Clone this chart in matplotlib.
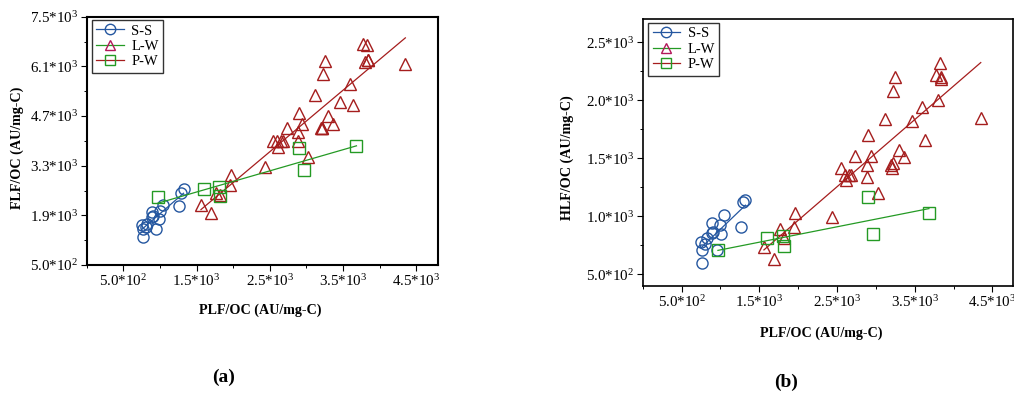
import numpy as np
import matplotlib
matplotlib.use("Agg")
import matplotlib.pyplot as plt
from matplotlib.lines import Line2D
from matplotlib.ticker import AutoMinorLocator

plt.rcParams['font.family'] = ['Liberation Serif', 'DejaVu Serif']
plt.rcParams['mathtext.fontset'] = 'custom'
plt.rcParams['mathtext.rm'] = 'Liberation Serif'
plt.rcParams['mathtext.it'] = 'Liberation Serif'
plt.rcParams['mathtext.bf'] = 'Liberation Serif:bold'

# PLF/OC (x) and FLF/OC, HLF/OC (y) per gruppo
plf_ss = [750, 762, 768, 805, 825, 886, 890, 905, 950, 992, 1004, 1045, 1262, 1285, 1322]
flf_ss = [1618, 1299, 1506, 1581, 1656, 1844, 1985, 1882, 1506, 1788, 2013, 2192, 2173, 2520, 2643]
hlf_ss = [773, 595, 710, 759, 811, 940, 855, 860, 710, 926, 845, 1012, 906, 1119, 1139]

plf_lw = [1560, 1692, 1765, 1820, 1950, 1966, 2435, 2550, 2600, 2615, 2650, 2675,
          2738, 2880, 2884, 2900, 2937, 3025, 3114, 3200, 3210, 3218, 3227, 3252,
          3300, 3358, 3462, 3595, 3630, 3775, 3800, 3820, 3835, 3843, 4350]
flf_lw = [2192, 1957, 2539, 2474, 2756, 3038, 3273, 4006, 4006, 3836, 4006, 4006,
          4353, 4006, 4259, 4795, 4466, 3553, 5292, 4353, 4353, 4360, 5875, 6260,
          4701, 4466, 5105, 5594, 5002, 6722, 6233, 6703, 6280, 6280, 6153]
hlf_lw = [733, 629, 888, 811, 906, 1027, 992, 1415, 1358, 1314, 1358, 1358,
          1523, 1335, 1444, 1703, 1522, 1199, 1838, 1444, 1415, 1458, 2083, 2206,
          1573, 1507, 1818, 1942, 1660, 2221, 2005, 2322, 2201, 2184, 1847]

plf_pw = [968, 1600, 1808, 1822, 2905, 2968, 3683]
flf_pw = [2408, 2633, 2709, 2445, 3808, 3179, 3855]
hlf_pw = [710, 811, 825, 739, 1170, 845, 1027]

x_ticks = [500, 1500, 2500, 3500, 4500]
x_labels = ['5.0*10$^2$', '1.5*10$^3$', '2.5*10$^3$', '3.5*10$^3$', '4.5*10$^3$']
ya_ticks = [500, 1900, 3300, 4700, 6100, 7500]
ya_labels = ['5.0*10$^2$', '1.9*10$^3$', '3.3*10$^3$', '4.7*10$^3$', '6.1*10$^3$', '7.5*10$^3$']
yb_ticks = [500, 1000, 1500, 2000, 2500]
yb_labels = ['5.0*10$^2$', '1.0*10$^3$', '1.5*10$^3$', '2.0*10$^3$', '2.5*10$^3$']

blue = '#2557a0'
red = '#a51d1d'
green = '#249a24'
crimson = '#b3185a'


def scatter_fit(ax, x, y, marker, color, ms):
    ax.plot(x, y, linestyle='none', marker=marker, ms=ms, mfc='none',
            mec=color, mew=1.0)
    k, q = np.polyfit(x, y, 1)
    xs = np.array([min(x), max(x)])
    ax.plot(xs, k * xs + q, color=color, lw=0.9)


def style_axes(ax, yticks, ylabels, lw):
    ax.set_xticks(x_ticks)
    ax.set_xticklabels(x_labels)
    ax.set_yticks(yticks)
    ax.set_yticklabels(ylabels)
    ax.xaxis.set_minor_locator(AutoMinorLocator(2))
    ax.yaxis.set_minor_locator(AutoMinorLocator(2))
    ax.tick_params(which='major', direction='out', length=4, width=0.8,
                   labelsize=10.8, pad=2)
    ax.tick_params(which='minor', direction='out', length=2.5, width=0.7)
    for s in ax.spines.values():
        s.set_linewidth(lw)
    handles = [
        Line2D([], [], color=blue, lw=0.9, marker='o', ms=7.5, mfc='none', mec=blue),
        Line2D([], [], color=green, lw=0.9, marker='^', ms=7.5, mfc='none', mec=crimson),
        Line2D([], [], color=red, lw=0.9, marker='s', ms=7.5, mfc='none', mec=green),
    ]
    leg = ax.legend(handles, ['S-S', 'L-W', 'P-W'], loc='upper left',
                    bbox_to_anchor=(0.015, 0.987), borderaxespad=0, fontsize=10.5,
                    handlelength=1.9, handletextpad=0.5, labelspacing=0.15,
                    borderpad=0.3, fancybox=False, framealpha=1)
    leg.get_frame().set_edgecolor('#333333')
    leg.get_frame().set_linewidth(1.0)


fig = plt.figure(figsize=(10.14, 3.98), dpi=100)

ax1 = fig.add_axes([86.7 / 1014, 1 - 265 / 398, 351.6 / 1014, 248.3 / 398])
scatter_fit(ax1, plf_ss, flf_ss, 'o', blue, 8)
scatter_fit(ax1, plf_lw, flf_lw, '^', red, 8.5)
scatter_fit(ax1, plf_pw, flf_pw, 's', green, 8)
ax1.set_xlim(0, 4800)
ax1.set_ylim(500, 7500)
style_axes(ax1, ya_ticks, ya_labels, 1.5)

ax2 = fig.add_axes([642.7 / 1014, 1 - 285.7 / 398, 370.3 / 1014, 266.4 / 398])
scatter_fit(ax2, plf_ss, hlf_ss, 'o', blue, 8)
scatter_fit(ax2, plf_lw, hlf_lw, '^', red, 8.5)
scatter_fit(ax2, plf_pw, hlf_pw, 's', green, 8)
ax2.set_xlim(0, 4765)
ax2.set_ylim(400, 2700)
style_axes(ax2, yb_ticks, yb_labels, 1.2)

fig.text(260 / 1014, 1 - 310 / 398, 'PLF/OC (AU/mg-C)', ha='center', va='center',
         fontsize=10.2, fontweight='bold')
fig.text(17 / 1014, 1 - 148 / 398, 'FLF/OC (AU/mg-C)', ha='center', va='center',
         fontsize=10.2, fontweight='bold', rotation=90)
fig.text(821 / 1014, 1 - 333 / 398, 'PLF/OC (AU/mg-C)', ha='center', va='center',
         fontsize=10.2, fontweight='bold')
fig.text(567 / 1014, 1 - 158 / 398, 'HLF/OC (AU/mg-C)', ha='center', va='center',
         fontsize=10.2, fontweight='bold', rotation=90)

fig.text(224 / 1014, 1 - 377 / 398, '(a)', ha='center', va='center',
         fontsize=14, fontweight='bold')
fig.text(786 / 1014, 1 - 382 / 398, '(b)', ha='center', va='center',
         fontsize=14, fontweight='bold')

fig.savefig('out.png', dpi=100)
